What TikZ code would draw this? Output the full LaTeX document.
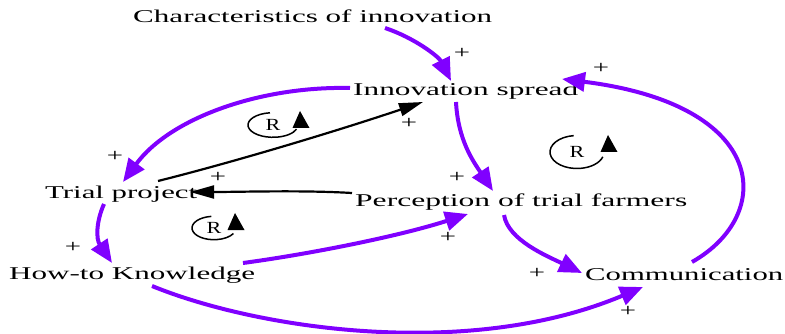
\documentclass[tikz,border=0pt]{standalone}
\usepackage{fontspec}
\setmainfont{Liberation Serif}
\usetikzlibrary{arrows.meta}
\definecolor{vio}{RGB}{128,0,255}
\newcommand\wbox[2]{\resizebox{#1pt}{\height}{#2}}
\newcommand\pl{\scalebox{1.6}[1]{+}}
\newcommand\loopR[7]{%
  \node[loopl] (#1) at (#2,#3) {\scalebox{1.3}[1]{R}};
  \draw[loopline] ([shift={(-97:#4 and #5)}]#1.center) arc[start angle=-97,end angle=#6-360,x radius=#4,y radius=#5];
  \fill ([shift={(#7)}]#1.center) -- ++(-7.5,17) -- ++(17,0) -- cycle;}
\begin{document}
\begin{tikzpicture}[x=1pt,y=-1pt,
  var/.style={inner sep=0pt, anchor=base west, font=\fontsize{18}{18}\selectfont},
  poslink/.style={vio, line width=4pt, -{Triangle[length=23pt,width=19pt]}},
  blklink/.style={black, line width=2.2pt, -{Triangle[length=24pt,width=13pt]}},
  plus/.style={inner sep=0pt, font=\fontsize{18}{18}\selectfont},
  loopl/.style={inner sep=0pt, font=\fontsize{17}{17}\selectfont},
  loopline/.style={line width=1.5pt}]
\useasboundingbox (0,0) rectangle (785,334);
% variables
\node[var] (char)  at (133,23)  {\wbox{359}{Characteristics of innovation}};
\node[var] (inno)  at (353,96)  {\wbox{225}{Innovation spread}};
\node[var] (trial) at (45,199)  {\wbox{152}{Trial project}};
\node[var] (perc)  at (355,207) {\wbox{332}{Perception of trial farmers}};
\node[var] (how)   at (9,279)   {\wbox{246}{How-to Knowledge}};
\node[var] (comm)  at (585,280) {\wbox{198}{Communication}};
% links
\draw[poslink] ([shift={(252,5)}]char.base west) .. controls +(30,10) and +(-12,-24) .. ([shift={(98,-15)}]inno.base west);
\draw[poslink] ([shift={(-3,-8)}]inno.base west) .. controls +(-90,-2) and +(47,-64) .. ([shift={(78,-17)}]trial.base west);
\draw[poslink] ([shift={(103,6)}]inno.base west) .. controls +(2,38) and +(-20,-30) .. ([shift={(138,-16)}]perc.base west);
\draw[blklink] ([shift={(113,-18)}]trial.base west) .. controls +(80,-20) and +(-80,27) .. ([shift={(70,6)}]inno.base west);
\draw[blklink] ([shift={(-3,-14)}]perc.base west) .. controls +(-50,-3) and +(50,0) .. ([shift={(145,-7)}]trial.base west);
\draw[poslink] ([shift={(59,5)}]trial.base west) .. controls +(-8,18) and +(-16,-24) .. ([shift={(103,-16)}]how.base west);
\draw[poslink] ([shift={(234,-16)}]how.base west) .. controls +(67,-9) and +(-68,22) .. ([shift={(113,7)}]perc.base west);
\draw[poslink] ([shift={(149,8)}]perc.base west) .. controls +(4,25) and +(-35,-17) .. ([shift={(-3,-7)}]comm.base west);
\draw[poslink] ([shift={(107,-18)}]comm.base west) .. controls +(83,-47) and +(208,26) .. ([shift={(209,-17)}]inno.base west);
\draw[poslink] ([shift={(143,7)}]how.base west) .. controls +(108,44) and +(-173,73) .. ([shift={(58,7)}]comm.base west);
% polarity signs
\node[plus] (p1)  at (462,53)  {\pl};
\node[plus] (p2)  at (601,68)  {\pl};
\node[plus] (p3)  at (409,123) {\pl};
\node[plus] (p4)  at (115,156) {\pl};
\node[plus] (p5)  at (218,177) {\pl};
\node[plus] (p6)  at (73,247)  {\pl};
\node[plus] (p7)  at (457,177) {\pl};
\node[plus] (p8)  at (448,237) {\pl};
\node[plus] (p9)  at (537,273) {\pl};
\node[plus] (p10) at (628,311) {\pl};
% loop markers
\loopR{r1}{273}{125}{25}{12.3}{20}{27,-14}
\loopR{r2}{577}{152}{27}{16.5}{17}{31,-17}
\loopR{r3}{214}{228}{22}{11.7}{28}{21,-15}
\end{tikzpicture}
\end{document}
